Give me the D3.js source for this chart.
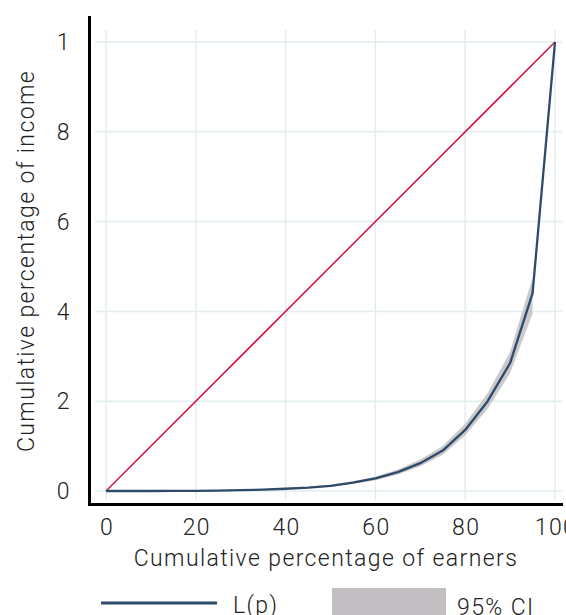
<!DOCTYPE html>
<html>
<head>
<meta charset="utf-8">
<script src="https://cdn.jsdelivr.net/npm/d3@7"></script>
<style>
  html, body { margin: 0; padding: 0; background: #fff; }
  text { font-family: Roboto, "Noto Sans", sans-serif; font-weight: 300; fill: #222; letter-spacing: 1.4px; }
</style>
</head>
<body>
<script>
// Lorenz curve L(p)
const pct = [0, 5, 10, 15, 20, 25, 30, 35, 40, 45, 50, 55, 60, 65, 70, 75, 80, 85, 90, 95, 100];
const share = [0, 0, 0, 0.002, 0.005, 0.01, 0.018, 0.03, 0.05, 0.075, 0.115, 0.185, 0.28, 0.42, 0.62, 0.9, 1.36, 2.0, 2.85, 4.4, 10];

// 95% confidence band
const ciPct = [0, 10, 20, 30, 40, 45, 50, 55, 60, 65, 70, 75, 80, 85, 90, 95];
const ciLow = [0, 0, 0.003, 0.014, 0.04, 0.062, 0.097, 0.16, 0.24, 0.37, 0.55, 0.81, 1.24, 1.83, 2.62, 3.95];
const ciHigh = [0, 0.002, 0.008, 0.024, 0.062, 0.09, 0.135, 0.215, 0.32, 0.48, 0.7, 1.0, 1.5, 2.18, 3.1, 4.75];

const xTicks = [0, 20, 40, 60, 80, 100];
const yTicks = [0, 2, 4, 6, 8, 10];
const yTickLabels = ["0", "2", "4", "6", "8", "1"];

const width = 566, height = 615;

const x = d3.scaleLinear().domain([0, 100]).range([106, 555]);
const y = d3.scaleLinear().domain([0, 10]).range([491, 42]);

const svg = d3.select("body").append("svg")
  .attr("width", width)
  .attr("height", height);

// grid
const grid = svg.append("g")
  .attr("stroke", "#e3edef")
  .attr("stroke-width", 1.5);

grid.selectAll("line.v")
  .data(xTicks)
  .join("line")
  .attr("class", "v")
  .attr("x1", d => x(d)).attr("x2", d => x(d))
  .attr("y1", 30).attr("y2", 500);

grid.selectAll("line.h")
  .data(yTicks)
  .join("line")
  .attr("class", "h")
  .attr("x1", 95).attr("x2", 562)
  .attr("y1", d => y(d)).attr("y2", d => y(d));

// CI band
const band = ciPct.map((p, i) => ({p, lo: ciLow[i], hi: ciHigh[i]}));
svg.append("path")
  .datum(band)
  .attr("fill", "#c4c4c4")
  .attr("fill-opacity", 0.9)
  .attr("d", d3.area()
    .x(d => x(d.p))
    .y0(d => y(d.lo))
    .y1(d => y(d.hi)));

// equality line
svg.append("line")
  .attr("x1", x(0)).attr("y1", y(0))
  .attr("x2", x(100)).attr("y2", y(10))
  .attr("stroke", "#d21f4c")
  .attr("stroke-width", 1.6);

// Lorenz curve
svg.append("path")
  .datum(pct.map((p, i) => [p, share[i]]))
  .attr("fill", "none")
  .attr("stroke", "#2d4a6a")
  .attr("stroke-width", 2.3)
  .attr("stroke-linejoin", "round")
  .attr("d", d3.line().x(d => x(d[0])).y(d => y(d[1])));

// axes lines
svg.append("line")
  .attr("x1", 89.5).attr("x2", 89.5)
  .attr("y1", 16).attr("y2", 506)
  .attr("stroke", "#000").attr("stroke-width", 3);
svg.append("line")
  .attr("x1", 88).attr("x2", 563)
  .attr("y1", 504.5).attr("y2", 504.5)
  .attr("stroke", "#000").attr("stroke-width", 3);

// tick labels
svg.append("g")
  .selectAll("text")
  .data(yTicks)
  .join("text")
  .attr("x", 71)
  .attr("y", d => y(d))
  .attr("dy", "0.36em")
  .attr("text-anchor", "end")
  .attr("font-size", 23)
  .text((d, i) => yTickLabels[i]);

svg.append("g")
  .selectAll("text")
  .data(xTicks)
  .join("text")
  .attr("x", d => x(d) + 1)
  .attr("y", 535)
  .attr("text-anchor", "middle")
  .attr("font-size", 23)
  .text(d => d);

// axis titles
svg.append("text")
  .attr("x", 326)
  .attr("y", 566)
  .attr("text-anchor", "middle")
  .attr("font-size", 23)
  .text("Cumulative percentage of earners");

svg.append("text")
  .attr("transform", "translate(34,261) rotate(-90)")
  .attr("text-anchor", "middle")
  .attr("font-size", 23)
  .text("Cumulative percentage of income");

// legend
svg.append("line")
  .attr("x1", 101).attr("x2", 217)
  .attr("y1", 603).attr("y2", 603)
  .attr("stroke", "#2d4a6a")
  .attr("stroke-width", 3);
svg.append("text")
  .attr("x", 233).attr("y", 613)
  .attr("font-size", 23)
  .text("L(p)");
svg.append("rect")
  .attr("x", 332).attr("y", 588)
  .attr("width", 114).attr("height", 30)
  .attr("fill", "#c2bec2");
svg.append("text")
  .attr("x", 457).attr("y", 615)
  .attr("font-size", 23)
  .text("95% CI");
</script>
</body>
</html>
